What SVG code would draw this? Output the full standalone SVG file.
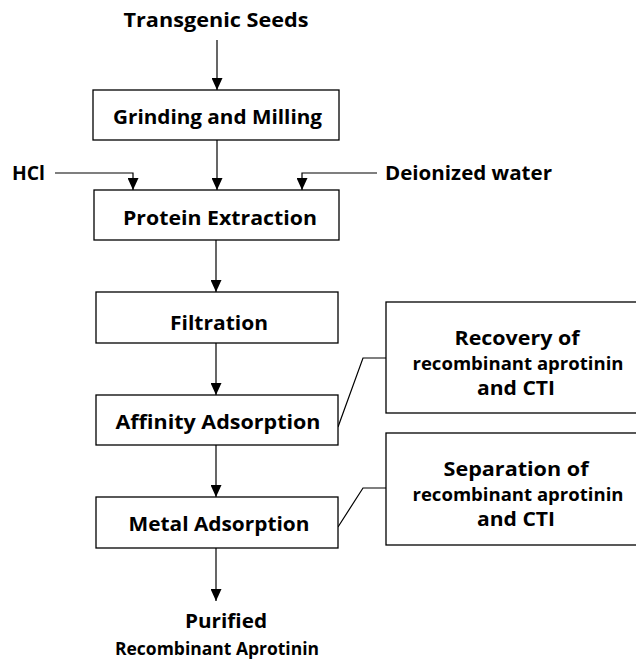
<svg xmlns="http://www.w3.org/2000/svg" width="636" height="660" viewBox="0 0 636 660">
<defs>
<marker id="ah" viewBox="0 0 12 11" refX="12" refY="5.5" markerWidth="12" markerHeight="11" markerUnits="userSpaceOnUse" orient="auto">
<path d="M0,0 L12,5.5 L0,11 Z" fill="#000"/>
</marker>
</defs>
<style>
text{font-family:"Open Sans","Liberation Sans",sans-serif;font-weight:bold;font-size:20px;fill:#000;text-anchor:middle}
.lbl{text-anchor:start}
.sm{font-size:18.5px}
.xs{font-size:17.5px}
.box{fill:#fff;stroke:#000;stroke-width:1.3}
.ln{fill:none;stroke:#000;stroke-width:1.2}
.ar{fill:none;stroke:#000;stroke-width:1.2;marker-end:url(#ah)}
</style>
<rect width="636" height="660" fill="#fff"/>
<g id="connectors">
<path class="ar" d="M217,40 V90"/>
<path class="ar" d="M217,140 V190"/>
<path class="ar" d="M55,173 H133 V190"/>
<path class="ar" d="M377,173 H302 V190"/>
<path class="ar" d="M216,240 V292"/>
<path class="ar" d="M216,343 V395"/>
<path class="ar" d="M216,445 V497"/>
<path class="ar" d="M216,548 V601"/>
<path class="ln" d="M338,427 L363,358 H386"/>
<path class="ln" d="M338,527 L363,488 H386"/>
</g>
<g id="seeds"><text x="216" y="27" textLength="185" lengthAdjust="spacingAndGlyphs">Transgenic Seeds</text></g>
<g id="grinding"><rect class="box" x="93" y="90" width="246" height="50"/><text x="217.5" y="124" textLength="209" lengthAdjust="spacingAndGlyphs">Grinding and Milling</text></g>
<g id="hcl"><text class="lbl" x="12" y="180" textLength="33" lengthAdjust="spacingAndGlyphs">HCl</text></g>
<g id="water"><text class="lbl" x="385" y="180" textLength="167" lengthAdjust="spacingAndGlyphs">Deionized water</text></g>
<g id="extraction"><rect class="box" x="94" y="190" width="245" height="50"/><text x="220" y="225" textLength="194" lengthAdjust="spacingAndGlyphs">Protein Extraction</text></g>
<g id="filtration"><rect class="box" x="96" y="292" width="242" height="51"/><text x="219" y="330" textLength="98" lengthAdjust="spacingAndGlyphs">Filtration</text></g>
<g id="affinity"><rect class="box" x="96" y="395" width="242" height="50"/><text x="218" y="429" textLength="205" lengthAdjust="spacingAndGlyphs">Affinity Adsorption</text></g>
<g id="metal"><rect class="box" x="96" y="497" width="242" height="51"/><text x="219" y="531" textLength="181" lengthAdjust="spacingAndGlyphs">Metal Adsorption</text></g>
<g id="recovery"><rect class="box" x="386" y="302" width="270" height="111"/><text x="517" y="345" textLength="125" lengthAdjust="spacingAndGlyphs">Recovery of</text><text class="sm" x="518" y="370" textLength="211" lengthAdjust="spacingAndGlyphs">recombinant aprotinin</text><text x="516" y="395" textLength="78" lengthAdjust="spacingAndGlyphs">and CTI</text></g>
<g id="separation"><rect class="box" x="386" y="433" width="270" height="112"/><text x="516" y="476" textLength="145" lengthAdjust="spacingAndGlyphs">Separation of</text><text class="sm" x="518" y="501" textLength="211" lengthAdjust="spacingAndGlyphs">recombinant aprotinin</text><text x="516" y="526" textLength="78" lengthAdjust="spacingAndGlyphs">and CTI</text></g>
<g id="purified"><text x="226" y="628" textLength="82" lengthAdjust="spacingAndGlyphs">Purified</text><text class="xs" x="217" y="655" textLength="204" lengthAdjust="spacingAndGlyphs">Recombinant Aprotinin</text></g>
</svg>
